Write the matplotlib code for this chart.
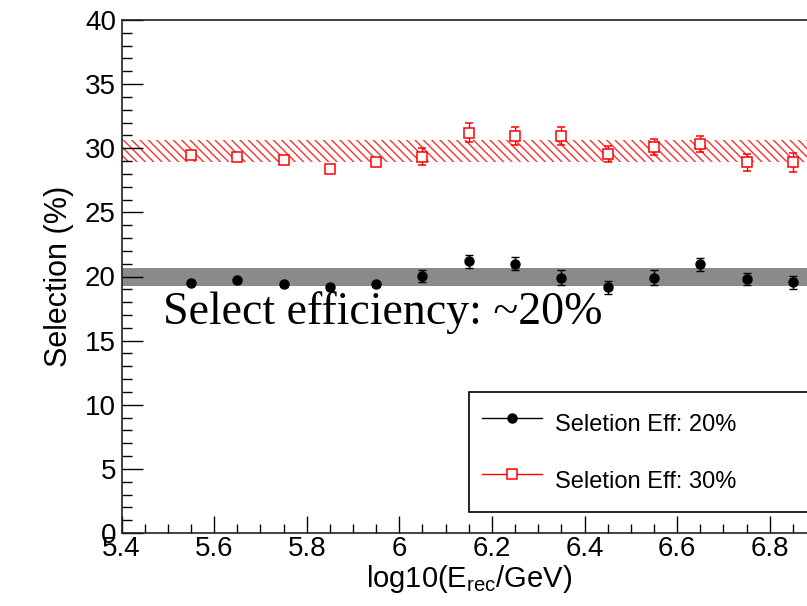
import matplotlib
matplotlib.use("Agg")
import matplotlib.pyplot as plt
from matplotlib.lines import Line2D
from matplotlib.ticker import MultipleLocator

# Energy bins (bin centres, log10(E_rec/GeV))
log_e = [5.55, 5.65, 5.75, 5.85, 5.95, 6.05, 6.15, 6.25, 6.35, 6.45, 6.55, 6.65, 6.75, 6.85]

# Selection efficiency (%) for the 20% working point
eff20 = [19.5, 19.7, 19.4, 19.15, 19.4, 20.05, 21.2, 21.0, 19.9, 19.15, 19.9, 20.95, 19.8, 19.55]
err20 = [0.2, 0.2, 0.2, 0.2, 0.2, 0.45, 0.5, 0.52, 0.57, 0.53, 0.57, 0.5, 0.45, 0.52]

# Selection efficiency (%) for the 30% working point
eff30 = [29.45, 29.35, 29.1, 28.4, 28.9, 29.35, 31.2, 30.95, 30.95, 29.55, 30.1, 30.35, 28.9, 28.9]
err30 = [0.25, 0.3, 0.3, 0.15, 0.3, 0.65, 0.73, 0.7, 0.7, 0.62, 0.6, 0.64, 0.65, 0.73]

# Uncertainty bands around the mean efficiency (low, high)
band20 = [19.27, 20.68]
band30 = [28.95, 30.68]

x_range = [5.4, 6.9]
y_range = [0, 40]

plt.rcParams["font.family"] = ["Liberation Sans", "DejaVu Sans"]
plt.rcParams["mathtext.default"] = "regular"
plt.rcParams["hatch.linewidth"] = 1.0

W, H = 807, 606
fig = plt.figure(figsize=(W / 100, H / 100), dpi=100)

left_px, right_px, top_px, bottom_px = 121.5, 816.0, 20.0, 533.0
ax = fig.add_axes([left_px / W, (H - bottom_px) / H,
                   (right_px - left_px) / W, (bottom_px - top_px) / H])
ax.set_xlim(*x_range)
ax.set_ylim(*y_range)

# Bands
ax.fill_between(x_range, band20[0], band20[1], facecolor="#8a8a8a",
                edgecolor="none", linewidth=0, zorder=1)
ax.fill_between(x_range, band30[0], band30[1], facecolor="none",
                edgecolor="#ff3030", hatch="\\\\\\\\", linewidth=0, zorder=1)

# Data points with error bars
ax.errorbar(log_e, eff20, yerr=err20, fmt="o", color="black", ms=6.5,
            elinewidth=1.0, capsize=3, capthick=1.0, zorder=3)
ax.errorbar(log_e, eff30, yerr=err30, fmt="s", color="#ff0000", ms=7.2,
            mfc="white", mec="#ff0000", mew=1.1, elinewidth=1.0,
            capsize=3, capthick=1.0, zorder=3)

# Ticks
ax.xaxis.set_major_locator(MultipleLocator(0.2))
ax.xaxis.set_minor_locator(MultipleLocator(0.05))
ax.yaxis.set_major_locator(MultipleLocator(5))
ax.yaxis.set_minor_locator(MultipleLocator(1))
ax.xaxis.set_major_formatter(plt.FuncFormatter(lambda v, p: f"{v:g}"))
ax.tick_params(axis="both", which="both", direction="in", top=False, right=False,
               labelsize=20, width=1.0, color="black")
ax.tick_params(axis="y", which="major", length=15, pad=4)
ax.tick_params(axis="y", which="minor", length=7.2)
ax.tick_params(axis="x", which="major", length=12, pad=2)
ax.tick_params(axis="x", which="minor", length=6.5)
for s in ax.spines.values():
    s.set_linewidth(1.2)
    s.set_color("#222222")

ax.set_xlabel(r"log10(E$_{rec}$/GeV)", fontsize=21, labelpad=1)
ax.set_ylabel("Selection (%)", fontsize=22, labelpad=8)

# Annotation
ax.text(5.49, 16.3, "Select efficiency: ~20%", family=["Liberation Serif", "DejaVu Serif"],
        fontsize=33, ha="left", va="baseline", zorder=4)

# Legend
handles = [
    Line2D([], [], color="black", marker="o", ms=6.5, lw=1.0),
    Line2D([], [], color="#ff0000", marker="s", ms=7.2, mfc="white",
           mec="#ff0000", mew=1.1, lw=1.0),
]
labels = ["Seletion Eff: 20%", "Seletion Eff: 30%"]
leg = ax.legend(handles, labels, loc="lower left", mode="expand",
                bbox_to_anchor=(469 / W, (H - 512) / H, (860 - 469) / W, 0.3),
                bbox_transform=fig.transFigure, borderaxespad=0,
                fontsize=17, frameon=True, fancybox=False, shadow=False,
                borderpad=0.54, handleheight=2.1, labelspacing=0.8,
                handlelength=2.54, handletextpad=0.56)
leg.get_frame().set_edgecolor("black")
leg.get_frame().set_linewidth(1.2)
leg.get_frame().set_facecolor("white")
leg.get_frame().set_alpha(1)

fig.savefig("out.png", dpi=100)
